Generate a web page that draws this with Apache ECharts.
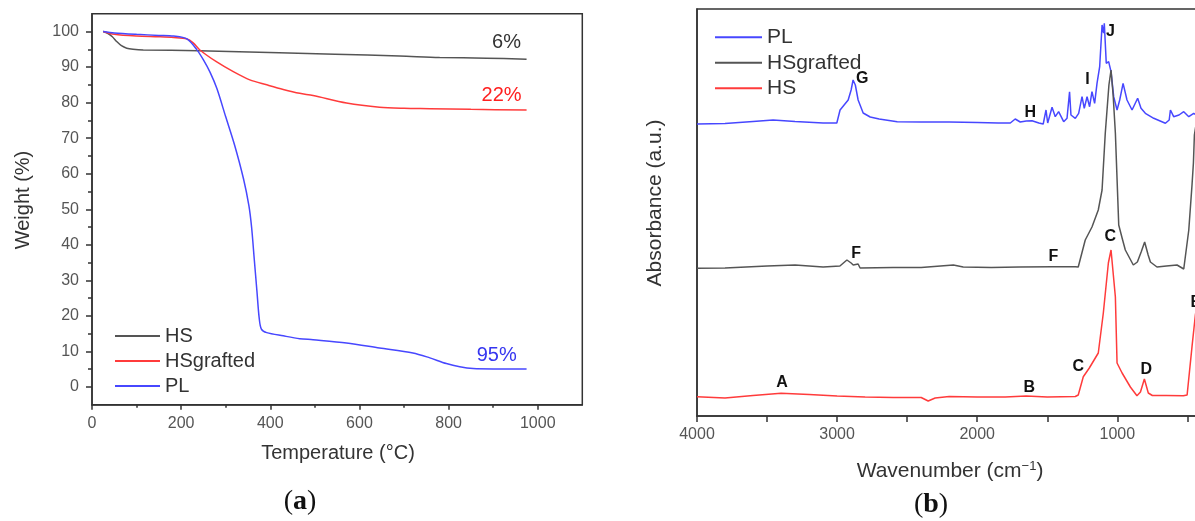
<!DOCTYPE html>
<html><head><meta charset="utf-8">
<script src="https://cdn.jsdelivr.net/npm/echarts@6/dist/echarts.min.js"></script>
<style>html,body{margin:0;padding:0;background:#fff;overflow:hidden}#c{width:1202px;height:521px}</style>
</head><body><div id="c"></div>
<script>
// ---- (a) TGA data: temperature (°C) and weight (%) ----
const TEMP_HS = [25,35,45,56,66,78,92,115,240,420,545,690,780,885,975];
const W_HS    = [100,99.5,98.6,97.1,96.0,95.3,95.0,94.8,94.6,94.0,93.6,93.1,92.7,92.5,92.2];
const TEMP_HSG = [25,50,100,150,183,213,227,242,279,317,354,392,429,466,496,571,645,700,758,850,975];
const W_HSG    = [100,99.2,98.7,98.5,98.3,97.9,96.8,94.8,91.5,88.7,86.4,85.0,83.7,82.6,82.0,79.9,78.7,78.4,78.3,78.1,77.9];
const TEMP_PL = [25,50,100,150,183,213,235,250,265,280,300,320,340,352,358,364,370,375,380,392,429,466,496,571,645,720,758,795,825,855,900,975];
const W_PL    = [100,99.6,99.2,98.9,98.7,97.9,94.9,92.0,88.5,84.0,76.0,68.0,58.5,51.0,45.0,36.0,27.0,19.5,16.3,15.3,14.4,13.6,13.3,12.4,11.0,9.6,8.2,6.6,5.7,5.2,5.1,5.1];
const TGA_TICKS_X = [0,200,400,600,800,1000];
const TGA_TICKS_Y = [0,10,20,30,40,50,60,70,80,90,100];
const TGA_NOTES = [['6%',930,96.8],['22%',919,81.9],['95%',908,9.0]];

// ---- (b) FTIR data: wavenumber (cm-1) and absorbance (a.u., stacked) ----
const WN_HS = [4000,3800,3600,3400,3200,3000,2800,2600,2400,2350,2300,2200,2000,1800,1650,1500,1300,1279,1243,1200,1136,1100,1064,1045,1014,1002,966,907,860,835,807,779,750,650,529,502,467,443,420,400];
const A_HS  = [0.193,0.18,0.205,0.227,0.215,0.20,0.19,0.185,0.185,0.15,0.18,0.195,0.19,0.19,0.20,0.19,0.195,0.21,0.393,0.48,0.63,1.03,1.53,1.66,1.19,0.53,0.43,0.29,0.203,0.24,0.37,0.23,0.205,0.205,0.203,0.21,0.693,1.01,1.21,1.31];
const WN_HSG = [4000,3800,3500,3300,3100,2980,2930,2900,2885,2850,2836,2600,2400,2170,2100,1900,1700,1464,1300,1279,1229,1181,1136,1109,1086,1060,1045,1030,1014,990,966,943,886,857,830,805,780,764,717,650,574,526,490,467,457,450,400];
const A_HSG  = [1.477,1.48,1.50,1.51,1.49,1.50,1.56,1.53,1.51,1.52,1.48,1.485,1.485,1.51,1.49,1.485,1.49,1.493,1.493,1.49,1.76,1.89,2.06,2.26,2.83,3.31,3.46,3.21,2.83,1.91,1.78,1.66,1.51,1.54,1.64,1.74,1.61,1.54,1.49,1.50,1.51,1.47,1.86,2.31,2.53,2.81,3.26];
const WN_PL = [4000,3800,3600,3457,3300,3100,3002,2979,2950,2921,2900,2886,2870,2850,2814,2764,2700,2571,2400,2200,2000,1850,1764,1729,1693,1650,1609,1560,1529,1509,1497,1466,1443,1419,1383,1359,1341,1331,1300,1276,1252,1236,1216,1198,1181,1162,1145,1126,1109,1098,1093,1079,1062,1045,1026,1002,983,959,931,895,855,831,800,740,657,630,621,598,560,526,490,455,400];
const A_PL  = [2.92,2.925,2.945,2.96,2.945,2.93,2.93,3.06,3.11,3.16,3.26,3.36,3.31,3.16,3.03,2.99,2.97,2.943,2.94,2.94,2.935,2.93,2.93,2.97,2.94,2.95,2.953,2.93,2.92,3.06,2.93,3.087,2.993,3.043,2.943,2.977,3.243,3.01,2.977,3.027,3.193,3.077,3.193,3.093,3.243,3.127,3.327,3.493,3.91,3.83,3.927,3.527,3.543,3.443,3.193,3.06,3.16,3.327,3.16,3.06,3.177,3.077,3.027,2.977,2.927,2.96,3.06,2.993,3.01,3.043,2.993,3.027,2.98];
const FTIR_TICKS_X = [4000,3000,2000,1000];
const FTIR_MINOR_X = [4000,3500,3000,2500,2000,1500,1000,500];
// peak letters: [letter, series, wavenumber, absorbance]
const PEAKS = [['A','HS',3393,0.33],['B','HS',1629,0.28],['C','HS',1279,0.49],['D','HS',793,0.46],['E','HS',439,1.13],
               ['C','HSG',1050,1.79],['F','HSG',2864,1.62],['F','HSG',1457,1.59],
               ['G','PL',2821,3.37],['H','PL',1621,3.03],['I','PL',1214,3.36],['J','PL',1050,3.84]];

const FONT = "'Liberation Sans', Arial, sans-serif";
const AX = '#333';
const C_GRAY = '#555555', C_RED = '#ff3b3b', C_BLUE = '#4747ff';
const zip = (a,b) => a.map((v,i)=>[v,b[i]]);
const plain = v => String(v);

function peakMarks(key){
  return {
    symbol:'circle', symbolSize:0, silent:true,
    label:{show:true, position:'inside', fontFamily:FONT, fontWeight:'bold', fontSize:16, color:'#111'},
    data: PEAKS.filter(p=>p[1]===key).map(p=>({coord:[p[2],p[3]], label:{formatter:p[0]}}))
  };
}
function noteMark(idx, color){
  const n = TGA_NOTES[idx];
  return {
    symbol:'circle', symbolSize:0, silent:true,
    label:{show:true, position:'inside', fontFamily:FONT, fontSize:20, color:color, formatter:n[0]},
    data:[{coord:[n[1],n[2]]}]
  };
}

const chart = echarts.init(document.getElementById('c'), null, {renderer:'canvas'});
const labelStyle = {fontFamily:FONT, fontSize:16, color:'#555', formatter:plain};
const tickLine = {color:AX, width:1.5};
const option = {
  animation:false,
  backgroundColor:'#fff',
  grid:[
    {left:92, top:13.7, right:619.7, bottom:116.2, show:true, borderColor:AX, borderWidth:1.5},
    {left:697, top:9, right:0.6, bottom:105, show:true, borderColor:AX, borderWidth:1.5}
  ],
  xAxis:[
    {type:'value', gridIndex:0, min:0, max:1100, position:'bottom', offset:0,
     axisLine:{onZero:false, lineStyle:{color:AX, width:1.5}}, splitLine:{show:false},
     axisTick:{show:true, length:5, customValues:TGA_TICKS_X, lineStyle:tickLine},
     axisLabel:{...labelStyle, margin:11, customValues:TGA_TICKS_X}},
    {type:'value', gridIndex:0, min:0, max:1100, position:'bottom', offset:0,
     axisLine:{show:false, onZero:false}, splitLine:{show:false}, axisLabel:{show:false},
     axisTick:{show:true, length:3, customValues:[100,300,500,700,900], lineStyle:tickLine}},
    {type:'value', gridIndex:1, min:400, max:4000, inverse:true, position:'bottom', offset:0,
     axisLine:{onZero:false, lineStyle:{color:AX, width:1.5}}, splitLine:{show:false},
     axisTick:{show:true, length:6, customValues:FTIR_MINOR_X, lineStyle:tickLine},
     axisLabel:{...labelStyle, margin:11, customValues:FTIR_TICKS_X}}
  ],
  yAxis:[
    {type:'value', gridIndex:0, min:-5, max:105, position:'left', offset:0,
     axisLine:{show:true, onZero:false, lineStyle:{color:AX, width:1.5}}, splitLine:{show:false},
     axisTick:{show:true, length:6, customValues:TGA_TICKS_Y, lineStyle:tickLine},
     axisLabel:{...labelStyle, margin:13, customValues:TGA_TICKS_Y}},
    {type:'value', gridIndex:0, min:-5, max:105, position:'left', offset:0,
     axisLine:{show:false, onZero:false}, splitLine:{show:false}, axisLabel:{show:false},
     axisTick:{show:true, length:4, customValues:[5,15,25,35,45,55,65,75,85,95], lineStyle:tickLine}},
    {type:'value', gridIndex:1, min:0, max:4.07, position:'left', offset:0,
     axisLine:{show:true, onZero:false, lineStyle:{color:AX, width:1.5}}, splitLine:{show:false},
     axisTick:{show:false}, axisLabel:{show:false}}
  ],
  legend:[
    {orient:'vertical', left:110, top:318.5, itemGap:0, icon:'rect', itemWidth:45, itemHeight:2,
     data:['HS|a','HSgrafted|a','PL|a'], formatter:n=>n.split('|')[0],
     textStyle:{fontFamily:FONT, fontSize:20, lineHeight:25, color:'#333'}},
    {orient:'vertical', left:710, top:19.5, itemGap:0, icon:'rect', itemWidth:47, itemHeight:2,
     data:['PL|b','HSgrafted|b','HS|b'], formatter:n=>n.split('|')[0],
     textStyle:{fontFamily:FONT, fontSize:21, lineHeight:25.5, color:'#333'}}
  ],
  series:[
    {name:'HS|a', type:'line', xAxisIndex:0, yAxisIndex:0, data:zip(TEMP_HS,W_HS), showSymbol:false,
     smooth:0.3, color:C_GRAY, lineStyle:{color:C_GRAY, width:1.5}, markPoint:noteMark(0,'#333')},
    {name:'HSgrafted|a', type:'line', xAxisIndex:0, yAxisIndex:0, data:zip(TEMP_HSG,W_HSG), showSymbol:false,
     smooth:0.3, color:C_RED, lineStyle:{color:C_RED, width:1.5}, markPoint:noteMark(1,'#ff2020')},
    {name:'PL|a', type:'line', xAxisIndex:0, yAxisIndex:0, data:zip(TEMP_PL,W_PL), showSymbol:false,
     smooth:0.3, color:C_BLUE, lineStyle:{color:C_BLUE, width:1.5}, markPoint:noteMark(2,'#3535f0')},
    {name:'PL|b', type:'line', xAxisIndex:2, yAxisIndex:2, data:zip(WN_PL,A_PL), showSymbol:false,
     color:C_BLUE, lineStyle:{color:C_BLUE, width:1.5}, markPoint:peakMarks('PL')},
    {name:'HSgrafted|b', type:'line', xAxisIndex:2, yAxisIndex:2, data:zip(WN_HSG,A_HSG), showSymbol:false,
     color:C_GRAY, lineStyle:{color:C_GRAY, width:1.5}, markPoint:peakMarks('HSG')},
    {name:'HS|b', type:'line', xAxisIndex:2, yAxisIndex:2, data:zip(WN_HS,A_HS), showSymbol:false,
     color:C_RED, lineStyle:{color:C_RED, width:1.5}, markPoint:peakMarks('HS')}
  ],
  graphic:[
    {type:'text', x:23, y:200, rotation:Math.PI/2, silent:true,
     style:{text:'Weight (%)', fontFamily:FONT, fontSize:20, fill:'#333', align:'center', verticalAlign:'middle'}},
    {type:'text', x:338, y:453, silent:true,
     style:{text:'Temperature (°C)', fontFamily:FONT, fontSize:20, fill:'#333', align:'center', verticalAlign:'middle'}},
    {type:'text', x:655, y:203, rotation:Math.PI/2, silent:true,
     style:{text:'Absorbance (a.u.)', fontFamily:FONT, fontSize:21, fill:'#333', align:'center', verticalAlign:'middle'}},
    {type:'text', x:950, y:471, silent:true,
     style:{text:'Wavenumber (cm{s|−1})', fontFamily:FONT, fontSize:21, fill:'#333', align:'center', verticalAlign:'middle',
            rich:{s:{fontFamily:FONT, fontSize:13, fill:'#333', verticalAlign:'top', padding:[0,0,10,0]}}}},
    {type:'text', x:300, y:502, silent:true,
     style:{text:'{p|(}{b|a}{p|)}', align:'center', verticalAlign:'middle',
            rich:{p:{fontFamily:"'Liberation Serif', serif", fontSize:28, fill:'#111'},
                  b:{fontFamily:"'Liberation Serif', serif", fontSize:28, fontWeight:'bold', fill:'#111'}}}},
    {type:'text', x:931, y:505, silent:true,
     style:{text:'{p|(}{b|b}{p|)}', align:'center', verticalAlign:'middle',
            rich:{p:{fontFamily:"'Liberation Serif', serif", fontSize:28, fill:'#111'},
                  b:{fontFamily:"'Liberation Serif', serif", fontSize:28, fontWeight:'bold', fill:'#111'}}}}
  ]
};
chart.setOption(option);
</script></body></html>
